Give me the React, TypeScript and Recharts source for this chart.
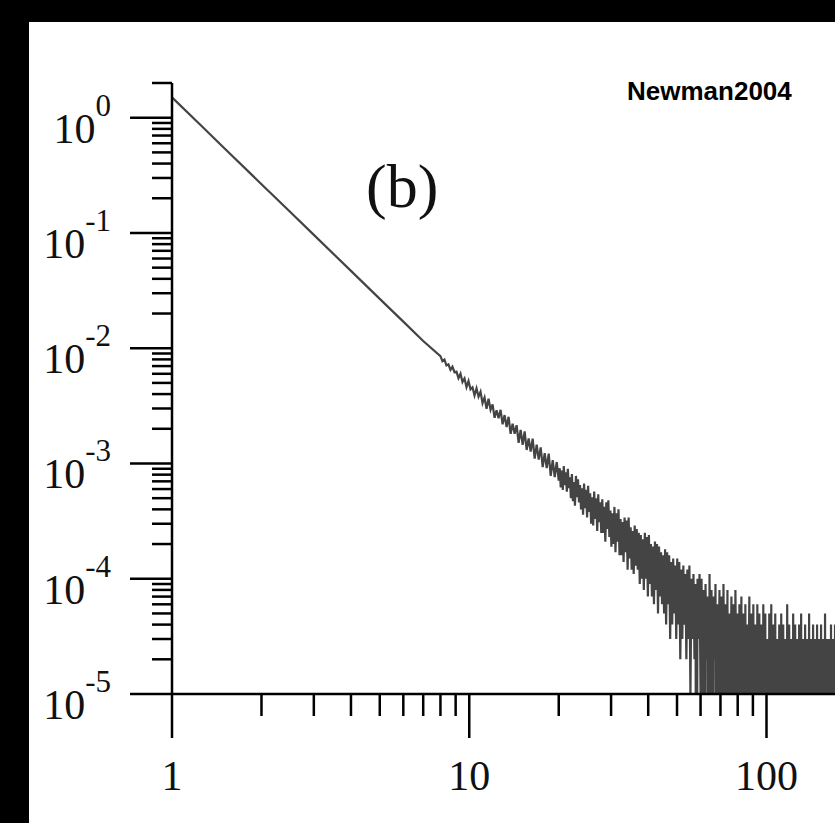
import React from 'react';
import { LineChart, Line, XAxis, YAxis } from 'recharts';

const headX = [1, 1.25, 1.5, 2, 2.5, 3, 4, 5, 6, 7];
const headY = [1.5, 0.86, 0.544, 0.265, 0.152, 0.0962, 0.0469, 0.0268, 0.017, 0.01155];

// Noisy tail, values in units of 1e-5 (0 = empty bin, drops below the axis)
// tailA: x from 8 to 20
const tailA = [854, 773, 798, 708, 724, 649, 690, 619, 626, 550,
  601, 509, 546, 460, 519, 440, 458, 389, 449, 380,
  419, 334, 374, 298, 365, 292, 326, 249, 290, 247,
  292, 219, 263, 207, 254, 181, 221, 181, 215, 151,
  196, 145, 190, 131, 165, 127, 164, 110, 146, 108,
  138, 93, 123, 91, 122, 78, 107, 76, 103, 71];
// tailB: x from 20 to 60
const tailB = [91, 62, 87, 59, 95, 65, 84, 57, 90, 61,
  76, 50, 81, 47, 69, 43, 78, 51, 73, 46,
  65, 40, 61, 36, 67, 41, 59, 34, 64, 38,
  55, 30, 51, 29, 57, 33, 50, 26, 54, 31,
  46, 25, 49, 25, 42, 21, 46, 27, 48, 23,
  39, 19, 37, 20, 42, 17, 37, 21, 40, 16,
  33, 16, 31, 14, 34, 17, 32, 12, 34, 15,
  28, 12, 26, 11, 29, 13, 27, 12, 25, 9,
  24, 10, 22, 8, 25, 10, 23, 7, 24, 9,
  20, 7, 19, 6, 21, 8, 20, 5, 19, 7,
  17, 6, 16, 5, 18, 4, 17, 6, 16, 3,
  14, 4, 15, 5, 13, 3, 15, 4, 14, 2,
  12, 3, 13, 4, 11, 2, 12, 3, 13, 1,
  10, 3, 11, 2, 9, 0, 10, 3, 11, 1];
// tailC: x from 60 to 170
const tailC = [10, 1, 8, 0, 9, 2, 7, 0, 11, 1,
  8, 0, 7, 2, 9, 0, 6, 1, 8, 0,
  7, 0, 9, 1, 6, 0, 8, 0, 5, 1,
  7, 0, 6, 0, 8, 1, 5, 0, 6, 0,
  7, 0, 5, 0, 6, 0, 4, 1, 7, 0,
  5, 0, 6, 0, 4, 0, 6, 0, 5, 0,
  4, 0, 6, 0, 5, 0, 3, 0, 5, 0,
  6, 0, 4, 0, 5, 0, 3, 0, 4, 0,
  5, 0, 4, 0, 3, 0, 6, 0, 4, 0,
  3, 0, 5, 0, 4, 0, 3, 0, 4, 0,
  5, 0, 3, 0, 4, 0, 3, 0, 5, 0,
  3, 0, 4, 0, 3, 0, 4, 0, 3, 0,
  4, 0, 3, 0, 5, 0, 3, 0, 3, 0,
  4, 0, 3, 0, 4];

const xMajor = [1, 10, 100];
const xLabels = ['1', '10', '100'];
const yMajor = [1e-5, 1e-4, 1e-3, 1e-2, 1e-1, 1];
const yExp = ['-5', '-4', '-3', '-2', '-1', '0'];
const minorMult = [2, 3, 4, 5, 6, 7, 8, 9];

const X_MAX = 170;
const Y_MIN = 1e-5;
const Y_MAX = 2;

const xTicks: number[] = [];
xMajor.forEach((m) => {
  xTicks.push(m);
  minorMult.forEach((k) => { if (k * m <= X_MAX) xTicks.push(k * m); });
});
const yTicks: number[] = [];
yMajor.forEach((m) => {
  yTicks.push(m);
  minorMult.forEach((k) => { if (k * m <= Y_MAX * 1.0001) yTicks.push(k * m); });
});

const toY = (c: number) => (c > 0 ? c * 1e-5 : 1e-8);
const data: { x: number; y: number }[] = [];
headX.forEach((x, i) => data.push({ x, y: headY[i] }));
tailA.forEach((c, i) => data.push({ x: 8 * Math.pow(20 / 8, i / (tailA.length - 1)), y: toY(c) }));
tailB.forEach((c, i) => data.push({ x: 20 * Math.pow(3, (i + 1) / tailB.length), y: toY(c) }));
tailC.forEach((c, i) => data.push({ x: 60 * Math.pow(X_MAX / 60, (i + 1) / tailC.length), y: toY(c) }));

const isMajor = (v: number) => Math.abs(Math.log10(v) - Math.round(Math.log10(v))) < 1e-6;
const serif = '"Liberation Serif", "Times New Roman", serif';

const YTick = (props: any) => {
  const { x, y, payload } = props;
  const v = payload.value;
  const major = isMajor(v);
  const idx = yMajor.findIndex((m) => Math.abs(Math.log10(m) - Math.log10(v)) < 1e-6);
  return (
    <g>
      <line x1={x - (major ? 42 : 20)} x2={x} y1={y} y2={y} stroke="#000" strokeWidth={2.5} />
      {major && idx >= 0 && (
        <text x={111} y={y + 25} textAnchor="end" fontFamily={serif} fontSize={42} fill="#111">
          10<tspan fontSize={31} dy={-27}>{yExp[idx]}</tspan>
        </text>
      )}
    </g>
  );
};

const XTick = (props: any) => {
  const { x, y, payload } = props;
  const v = payload.value;
  const major = isMajor(v);
  const idx = xMajor.findIndex((m) => Math.abs(Math.log10(m) - Math.log10(v)) < 1e-6);
  return (
    <g>
      <line x1={x} x2={x} y1={y} y2={y + (major ? 44 : 22)} stroke="#000" strokeWidth={2.5} />
      {major && idx >= 0 && (
        <text x={x} y={790} textAnchor="middle" fontFamily={serif} fontSize={42} fill="#111">
          {xLabels[idx]}
        </text>
      )}
    </g>
  );
};

export default function App() {
  return (
    <div style={{ position: 'absolute', left: 0, top: 0, width: 835, height: 823, background: '#000', overflow: 'hidden' }}>
      <div style={{ position: 'absolute', left: 29, top: 22, width: 806, height: 801, background: '#fff' }} />
      <div style={{ position: 'absolute', left: 0, top: 0 }}>
        <LineChart width={835} height={823} data={data} margin={{ top: 83, right: 0, bottom: 29, left: 0 }}>
          <XAxis
            dataKey="x"
            type="number"
            scale="log"
            domain={[1, X_MAX]}
            allowDataOverflow
            ticks={xTicks}
            interval={0}
            tick={<XTick />}
            tickLine={false}
            tickSize={0}
            tickMargin={0}
            axisLine={{ stroke: '#000', strokeWidth: 2.5 }}
            height={100}
          />
          <YAxis
            dataKey="y"
            type="number"
            scale="log"
            domain={[Y_MIN, Y_MAX]}
            allowDataOverflow
            ticks={yTicks}
            interval={0}
            tick={<YTick />}
            tickLine={false}
            tickSize={0}
            tickMargin={0}
            axisLine={{ stroke: '#000', strokeWidth: 2.5 }}
            width={172}
          />
          <Line
            type="linear"
            dataKey="y"
            stroke="#444444"
            strokeWidth={2.2}
            dot={false}
            isAnimationActive={false}
          />
        </LineChart>
      </div>
      <svg width={835} height={823} style={{ position: 'absolute', left: 0, top: 0, pointerEvents: 'none' }}>
        <text x={366} y={207} fontFamily={serif} fontSize={62} fill="#111">(b)</text>
        <text x={627} y={100} fontFamily='"Liberation Sans", Arial, sans-serif' fontWeight="bold" fontSize={26} fill="#000">
          Newman2004
        </text>
      </svg>
    </div>
  );
}
